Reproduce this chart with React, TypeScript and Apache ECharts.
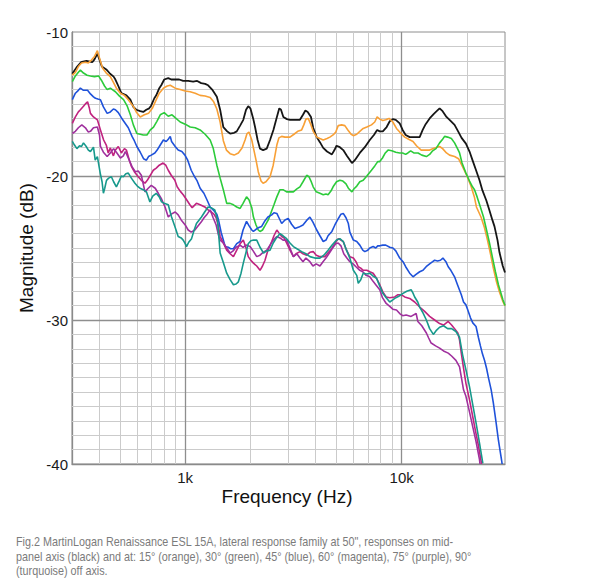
import React, { useEffect, useRef } from 'react';
import * as echarts from 'echarts';

// Frequency (Hz), magnitude (dB) pairs
const onAxis: [number, number][] = [
  [301,-12.9],[317,-12.4],[330,-12.1],[350,-12.0],[372,-12.1],[381,-11.9],[393,-11.5],[412,-12.4],[432,-12.6],[450,-12.9],[467,-13.1],[476,-13.3],[491,-13.75],[507,-14.25],[535,-14.4],[558,-14.7],[576,-15.2],[594,-15.4],[620,-15.5],[640,-15.55],[661,-15.4],[682,-15.3],[697,-15.1],[720,-14.6],[735,-14.4],[759,-13.9],[775,-13.7],[800,-13.3],[835,-13.2],[862,-13.3],[899,-13.3],[938,-13.3],[979,-13.4],[1032,-13.4],[1088,-13.45],[1136,-13.4],[1185,-13.55],[1236,-13.6],[1276,-13.7],[1332,-14.0],[1400,-14.5],[1450,-15.4],[1500,-16.6],[1563,-16.9],[1612,-17.05],[1682,-17.0],[1730,-16.9],[1793,-16.5],[1855,-16.1],[1910,-15.4],[1955,-15.15],[2000,-15.3],[2060,-16.0],[2102,-16.6],[2160,-17.5],[2216,-18.1],[2290,-18.2],[2380,-18.1],[2465,-17.5],[2555,-16.8],[2640,-16.0],[2720,-15.3],[2770,-15.4],[2840,-15.9],[2950,-16.05],[3047,-16.1],[3213,-16.1],[3388,-16.1],[3500,-15.75],[3590,-15.45],[3680,-15.55],[3810,-15.9],[3900,-16.65],[4050,-17.3],[4190,-17.65],[4340,-18.05],[4520,-18.3],[4760,-18.5],[4890,-18.2],[5000,-17.9],[5180,-18.0],[5370,-18.2],[5580,-18.6],[5890,-19.1],[6074,-18.9],[6405,-18.4],[6754,-18.0],[7122,-17.5],[7440,-17.15],[7700,-16.8],[7919,-16.9],[8180,-16.9],[8520,-16.6],[8806,-16.2],[9110,-16.05],[9390,-16.1],[9791,-16.35],[10100,-16.8],[10430,-17.15],[10886,-17.3],[11480,-17.3],[12105,-17.3],[12500,-16.8],[12900,-16.4],[13459,-16.0],[14040,-15.7],[14500,-15.5],[14966,-15.3],[15450,-15.5],[16100,-15.9],[16641,-16.1],[17547,-16.45],[18300,-16.95],[18900,-17.35],[19800,-17.75],[20574,-18.3],[21230,-18.9],[22050,-19.6],[22876,-20.3],[23600,-21.0],[24600,-21.7],[25436,-22.4],[26290,-23.1],[26822,-23.5],[27700,-24.45],[28283,-25.3],[29300,-26.25],[30000,-26.7]
];

const deg15: [number, number][] = [
  [301,-13.0],[311,-12.8],[321,-12.4],[332,-12.15],[346,-12.1],[357,-12.15],[369,-11.95],[381,-11.7],[393,-11.3],[402,-11.8],[415,-12.5],[432,-12.85],[451,-13.1],[466,-13.5],[481,-13.9],[502,-14.25],[524,-14.4],[546,-14.7],[578,-15.2],[594,-15.55],[620,-15.9],[648,-15.75],[677,-15.65],[705,-15.3],[727,-14.85],[759,-14.25],[793,-13.9],[826,-13.75],[853,-13.7],[899,-13.9],[948,-14.0],[1000,-14.1],[1054,-14.15],[1112,-14.25],[1172,-14.4],[1236,-14.45],[1304,-14.55],[1354,-14.85],[1400,-15.35],[1450,-16.25],[1500,-17.55],[1550,-18.2],[1612,-18.45],[1682,-18.55],[1760,-18.4],[1830,-18.05],[1890,-17.5],[1930,-17.05],[1970,-16.95],[2030,-17.5],[2066,-18.05],[2124,-18.9],[2175,-19.7],[2240,-20.35],[2290,-20.5],[2360,-20.4],[2465,-20.05],[2550,-19.25],[2650,-17.85],[2710,-17.35],[2790,-17.25],[2889,-17.3],[3047,-17.3],[3180,-17.1],[3310,-16.9],[3450,-16.8],[3530,-16.45],[3610,-16.05],[3700,-16.0],[3810,-16.45],[3900,-16.9],[4050,-17.3],[4190,-17.4],[4340,-17.5],[4520,-17.4],[4658,-17.3],[4820,-17.15],[4960,-16.95],[5090,-16.5],[5280,-16.45],[5462,-16.5],[5640,-16.8],[5840,-17.1],[5980,-17.2],[6200,-17.1],[6405,-16.9],[6640,-16.7],[6900,-16.6],[7250,-16.45],[7510,-16.25],[7700,-15.9],[7919,-16.05],[8180,-16.15],[8440,-16.1],[8740,-16.0],[9100,-16.25],[9460,-16.7],[9791,-16.95],[10324,-17.3],[10770,-17.45],[11280,-17.6],[11700,-17.9],[12300,-18.2],[12900,-18.2],[13459,-18.2],[14193,-18.05],[14966,-17.95],[15450,-18.1],[16100,-18.4],[16641,-18.55],[17547,-18.65],[18300,-18.8],[19100,-19.35],[19900,-19.9],[20950,-20.75],[21694,-21.5],[22140,-22.15],[23240,-22.85],[24122,-23.6],[24900,-24.45],[25700,-25.4],[26500,-26.4],[27400,-27.35],[28283,-28.05],[29300,-28.7],[30000,-29.0]
];

const deg30: [number, number][] = [
  [301,-13.45],[311,-13.05],[321,-12.8],[328,-12.65],[339,-12.85],[352,-13.0],[365,-13.05],[381,-13.1],[398,-13.05],[410,-13.35],[424,-13.75],[436,-14.0],[451,-13.9],[466,-14.05],[476,-14.15],[497,-14.45],[519,-14.7],[540,-15.15],[558,-15.75],[576,-16.45],[598,-17.05],[620,-17.1],[640,-17.15],[666,-17.15],[690,-16.8],[714,-16.6],[740,-16.2],[767,-15.75],[800,-15.6],[835,-15.85],[869,-15.75],[899,-15.95],[948,-16.25],[1000,-16.4],[1054,-16.6],[1112,-16.65],[1172,-16.8],[1236,-17.1],[1304,-17.5],[1346,-18.05],[1400,-19.25],[1450,-20.15],[1500,-20.95],[1555,-21.9],[1612,-21.9],[1670,-22.0],[1730,-22.15],[1793,-22.25],[1850,-21.9],[1920,-21.45],[1970,-21.65],[2030,-22.2],[2066,-22.85],[2124,-23.4],[2175,-23.75],[2216,-23.85],[2276,-23.75],[2337,-23.45],[2420,-23.05],[2490,-22.55],[2570,-22.0],[2650,-21.45],[2740,-20.95],[2830,-20.95],[2940,-21.1],[3047,-21.1],[3160,-21.1],[3280,-20.9],[3388,-20.75],[3500,-20.4],[3640,-19.95],[3730,-20.05],[3810,-20.35],[3900,-20.75],[4030,-21.1],[4190,-21.2],[4340,-21.3],[4470,-21.25],[4570,-21.3],[4710,-21.05],[4820,-20.75],[5000,-20.4],[5180,-20.3],[5350,-20.35],[5530,-20.55],[5670,-20.85],[5890,-21.1],[6010,-20.9],[6200,-20.7],[6405,-20.4],[6640,-20.3],[6900,-20.0],[7250,-19.6],[7510,-19.3],[7750,-19.0],[7919,-19.0],[8150,-18.75],[8400,-18.4],[8650,-18.2],[9000,-18.25],[9390,-18.35],[9791,-18.4],[10100,-18.4],[10430,-18.5],[10680,-18.4],[11000,-18.25],[11370,-18.4],[11900,-18.4],[12380,-18.55],[13000,-18.65],[13459,-18.5],[13900,-18.25],[14400,-18.1],[14966,-17.7],[15450,-17.45],[15781,-17.25],[16300,-17.3],[16960,-17.4],[17547,-17.7],[18100,-18.1],[18503,-18.4],[19000,-19.1],[19800,-19.8],[20574,-20.35],[21230,-20.75],[21694,-20.95],[22300,-21.45],[23030,-22.1],[23870,-22.85],[24650,-23.75],[25436,-24.65],[26290,-25.7],[27100,-26.65],[27970,-27.55],[29340,-28.6],[30000,-29.0]
];

const deg45: [number, number][] = [
  [301,-14.7],[311,-14.25],[321,-14.05],[328,-13.9],[339,-14.05],[354,-14.05],[365,-14.3],[377,-14.5],[385,-14.6],[395,-14.65],[406,-14.7],[419,-15.2],[436,-15.65],[451,-15.55],[466,-15.35],[476,-15.4],[491,-15.6],[507,-15.95],[529,-16.35],[546,-16.65],[568,-17.25],[582,-17.55],[598,-17.95],[620,-18.35],[642,-18.8],[662,-18.9],[677,-18.65],[697,-18.55],[724,-18.4],[742,-18.2],[767,-17.85],[793,-17.5],[817,-17.6],[835,-17.45],[853,-17.25],[865,-17.6],[899,-17.95],[928,-18.2],[965,-18.3],[997,-18.55],[1027,-18.9],[1066,-19.6],[1100,-20.0],[1132,-20.3],[1172,-20.85],[1220,-21.2],[1260,-21.65],[1304,-22.15],[1346,-22.35],[1400,-22.65],[1425,-23.05],[1465,-23.9],[1500,-24.45],[1529,-24.9],[1580,-24.95],[1620,-25.05],[1670,-25.05],[1730,-24.7],[1793,-24.55],[1850,-23.75],[1920,-23.15],[1970,-23.45],[2030,-23.75],[2066,-23.85],[2124,-23.7],[2175,-23.6],[2255,-23.5],[2337,-23.1],[2410,-22.85],[2510,-22.7],[2570,-22.55],[2650,-22.6],[2710,-22.9],[2790,-23.3],[2889,-23.05],[2990,-22.95],[3100,-23.35],[3213,-23.65],[3350,-23.55],[3500,-23.4],[3630,-23.1],[3767,-22.85],[3890,-23.2],[4050,-23.75],[4190,-24.15],[4340,-24.55],[4470,-24.45],[4570,-24.15],[4760,-23.85],[4912,-23.4],[5100,-22.95],[5240,-22.65],[5370,-22.6],[5530,-22.9],[5670,-23.3],[5760,-23.9],[5980,-24.45],[6200,-24.55],[6405,-24.8],[6610,-25.15],[6754,-25.25],[6970,-25.15],[7122,-25.0],[7380,-24.9],[7590,-25.0],[7750,-24.85],[7919,-24.85],[8180,-24.8],[8440,-24.8],[8806,-24.95],[9110,-25.0],[9390,-25.2],[9791,-25.7],[10140,-25.95],[10430,-26.3],[10886,-26.75],[11280,-27.0],[11610,-26.85],[12105,-26.65],[12540,-26.55],[12970,-26.3],[13459,-26.1],[13900,-25.95],[14193,-25.85],[14650,-25.9],[15100,-25.85],[15500,-25.7],[16000,-25.95],[16400,-26.3],[16860,-26.55],[17547,-27.0],[18100,-27.55],[18850,-28.25],[19300,-28.75],[19800,-28.95],[20200,-29.3],[20780,-29.85],[21300,-30.2],[22050,-30.45],[22600,-31.2],[23100,-31.8],[23600,-32.35],[24122,-32.8],[24650,-33.35],[25200,-34.05],[25900,-34.85],[26500,-35.75],[27300,-37.15],[27970,-38.35],[28900,-39.7],[29100,-40.0]
];

const deg60: [number, number][] = [
  [301,-16.35],[311,-15.9],[321,-15.55],[328,-15.4],[339,-15.15],[348,-14.95],[354,-14.85],[361,-15.3],[365,-15.65],[377,-15.9],[393,-16.1],[406,-16.8],[420,-17.5],[432,-17.85],[441,-18.4],[451,-18.05],[466,-18.6],[476,-18.2],[491,-17.95],[507,-18.4],[524,-18.1],[535,-18.2],[552,-18.9],[565,-19.35],[582,-19.7],[607,-20.05],[627,-20.3],[652,-20.5],[668,-20.3],[690,-19.95],[712,-19.6],[735,-19.45],[759,-19.25],[790,-19.1],[813,-19.25],[835,-19.6],[862,-19.95],[896,-20.3],[918,-20.75],[948,-21.05],[979,-21.3],[1015,-21.65],[1051,-22.0],[1077,-22.2],[1127,-21.9],[1172,-22.0],[1232,-22.15],[1276,-22.35],[1321,-22.5],[1357,-22.65],[1390,-22.9],[1420,-23.4],[1450,-24.2],[1500,-24.65],[1555,-25.15],[1612,-25.4],[1670,-25.6],[1730,-25.15],[1793,-24.7],[1855,-24.45],[1910,-25.0],[1955,-25.6],[2010,-25.85],[2066,-26.05],[2140,-26.25],[2216,-26.55],[2276,-26.25],[2337,-25.85],[2410,-25.15],[2510,-24.55],[2570,-24.15],[2650,-23.75],[2710,-23.95],[2790,-24.2],[2860,-24.3],[2940,-24.65],[3047,-25.15],[3160,-25.6],[3250,-25.4],[3388,-25.25],[3500,-25.4],[3640,-25.5],[3767,-25.3],[3900,-25.25],[4030,-25.5],[4190,-25.6],[4418,-25.6],[4560,-25.35],[4690,-25.15],[4820,-24.9],[4960,-24.6],[5090,-24.35],[5240,-24.45],[5370,-24.55],[5560,-25.15],[5760,-25.6],[5980,-25.7],[6150,-25.95],[6300,-26.3],[6470,-26.4],[6640,-26.55],[6900,-26.55],[7122,-26.65],[7380,-26.75],[7650,-27.1],[7919,-27.55],[8180,-28.05],[8480,-28.4],[8806,-28.45],[9285,-28.4],[9570,-28.25],[9980,-28.25],[10324,-28.4],[10886,-28.5],[11480,-28.75],[12105,-29.1],[12764,-29.4],[13459,-29.75],[14193,-30.0],[14966,-30.25],[15600,-30.35],[16400,-30.1],[17000,-30.35],[17547,-30.6],[18170,-30.9],[18503,-31.4],[18850,-32.3],[19300,-33.35],[19800,-34.4],[20574,-35.55],[21280,-36.7],[21880,-37.65],[22600,-38.7],[23200,-39.7],[23400,-40.0]
];

const deg75: [number, number][] = [
  [301,-17.05],[311,-16.9],[321,-16.65],[333,-16.45],[346,-16.65],[357,-16.95],[365,-16.9],[377,-16.65],[393,-16.6],[402,-17.15],[406,-17.95],[419,-18.35],[436,-18.65],[451,-18.4],[467,-18.1],[481,-18.35],[502,-18.75],[518,-18.6],[529,-18.3],[546,-18.75],[568,-19.35],[588,-19.7],[607,-19.65],[627,-19.95],[652,-21.1],[675,-20.85],[697,-20.65],[727,-20.85],[751,-21.2],[775,-21.55],[807,-22.15],[835,-22.85],[862,-22.65],[899,-22.5],[928,-22.7],[958,-23.05],[1000,-23.4],[1032,-23.75],[1066,-23.9],[1108,-23.75],[1148,-23.45],[1185,-23.2],[1222,-22.9],[1262,-22.65],[1304,-22.35],[1346,-22.9],[1390,-23.4],[1425,-24.1],[1450,-24.45],[1500,-24.65],[1555,-25.0],[1612,-25.35],[1665,-25.2],[1718,-24.95],[1793,-24.8],[1850,-24.95],[1910,-24.8],[1993,-24.9],[2060,-25.2],[2140,-25.6],[2216,-25.5],[2290,-25.3],[2380,-25.15],[2465,-24.8],[2550,-24.45],[2650,-24.2],[2740,-24.3],[2830,-24.45],[2940,-24.45],[3047,-25.0],[3160,-25.6],[3280,-25.4],[3388,-25.7],[3500,-25.95],[3610,-25.7],[3767,-25.95],[3890,-26.25],[4030,-26.1],[4190,-26.25],[4330,-25.95],[4470,-25.7],[4658,-25.3],[4820,-24.95],[4960,-24.7],[5090,-24.65],[5240,-24.85],[5400,-25.4],[5580,-25.7],[5760,-25.95],[5960,-26.1],[6150,-26.3],[6405,-26.55],[6610,-26.65],[6850,-26.9],[7122,-27.0],[7360,-27.3],[7590,-27.55],[7919,-27.9],[8150,-28.45],[8480,-28.85],[8806,-29.05],[9100,-29.25],[9460,-29.3],[9791,-29.55],[10100,-29.7],[10480,-29.65],[11050,-29.75],[11660,-29.55],[11870,-30.1],[12380,-30.4],[13000,-30.9],[13320,-31.25],[13680,-31.6],[14340,-31.8],[14966,-31.95],[15600,-32.15],[16400,-32.3],[17000,-32.5],[17800,-32.8],[18503,-33.25],[18900,-34.05],[19300,-34.85],[19800,-35.3],[20574,-36.4],[21280,-37.4],[22050,-38.45],[22876,-39.7],[23000,-40.0]
];

const deg90: [number, number][] = [
  [301,-17.6],[308,-17.85],[316,-18.1],[325,-17.9],[332,-17.95],[339,-17.7],[349,-17.95],[357,-18.2],[365,-18.3],[377,-18.0],[384,-18.9],[393,-18.65],[405,-19.8],[413,-20.4],[419,-21.2],[425,-20.85],[433,-20.3],[443,-20.15],[456,-20.05],[467,-20.4],[481,-20.75],[497,-20.3],[507,-20.0],[518,-20.05],[532,-19.85],[546,-19.8],[564,-20.15],[586,-20.5],[601,-20.7],[618,-20.85],[640,-20.95],[662,-21.1],[687,-21.8],[708,-21.4],[735,-21.2],[759,-21.45],[778,-21.8],[800,-21.9],[835,-22.0],[865,-22.85],[896,-23.5],[928,-24.2],[958,-24.3],[979,-24.45],[1000,-24.7],[1014,-24.9],[1038,-24.6],[1070,-24.35],[1100,-23.75],[1127,-23.3],[1160,-23.05],[1189,-22.85],[1230,-22.5],[1276,-22.15],[1317,-22.2],[1370,-22.35],[1410,-23.05],[1450,-25.35],[1500,-26.0],[1555,-26.75],[1612,-27.2],[1670,-27.55],[1718,-27.5],[1760,-27.35],[1811,-26.75],[1855,-26.05],[1910,-25.3],[1955,-24.7],[2010,-24.5],[2070,-24.45],[2140,-24.45],[2216,-24.95],[2300,-25.35],[2380,-25.2],[2465,-25.15],[2550,-24.65],[2640,-24.3],[2740,-24.0],[2830,-24.15],[2940,-24.35],[3047,-24.65],[3160,-24.9],[3280,-25.05],[3450,-25.25],[3610,-25.4],[3767,-25.6],[3973,-25.7],[4190,-25.7],[4370,-25.5],[4570,-25.15],[4770,-24.8],[5000,-24.45],[5180,-24.35],[5370,-24.55],[5560,-25.15],[5760,-25.7],[5980,-26.55],[6200,-26.9],[6300,-27.45],[6470,-27.2],[6640,-26.75],[6900,-26.8],[7122,-26.75],[7380,-26.95],[7650,-27.1],[7919,-27.65],[8180,-28.15],[8480,-28.45],[8806,-28.75],[9100,-28.6],[9285,-28.5],[9690,-28.35],[10140,-28.15],[10550,-28.0],[11050,-27.9],[11250,-28.1],[11480,-28.4],[11860,-28.75],[12105,-29.1],[12540,-29.5],[13000,-30.0],[13459,-30.6],[14000,-31.0],[14500,-30.7],[14966,-30.5],[15600,-30.4],[16300,-30.6],[17000,-30.6],[17800,-30.8],[18503,-31.2],[19100,-32.4],[19900,-33.6],[20574,-34.65],[21300,-35.9],[22050,-37.15],[22876,-38.55],[23700,-39.95]
];

const seriesNames = ['On axis', '15°', '30°', '45°', '60°', '75°', '90°'];
const seriesColors = ['#161616', '#f8a036', '#2ccb3a', '#1f52da', '#c0237f', '#a0309e', '#17998c'];
const seriesData = [onAxis, deg15, deg30, deg45, deg60, deg75, deg90];

const xMinorLines = [400, 500, 600, 700, 800, 900, 2000, 3000, 4000, 5000, 6000, 7000, 8000, 9000, 20000];
const xMajorLines = [1000, 10000];
const yMinorLines = [-39, -38, -37, -36, -35, -34, -33, -32, -31, -29, -28, -27, -26, -25, -24, -23, -22, -21, -19, -18, -17, -16, -15, -14, -13, -12, -11];
const yMajorLines = [-30, -20];
const yTicks = [-40, -30, -20, -10];

const captionLines = [
  'Fig.2 MartinLogan Renaissance ESL 15A, lateral response family at 50", responses on mid-',
  'panel axis (black) and at: 15° (orange), 30° (green), 45° (blue), 60° (magenta), 75° (purple), 90°',
  '(turquoise) off axis.',
];

const FONT = '"Liberation Sans", Arial, Helvetica, sans-serif';

export default function App() {
  const ref = useRef<HTMLDivElement>(null);
  useEffect(() => {
    if (!ref.current) return;
    const chart = echarts.init(ref.current, null, { renderer: 'svg' });
    const minorColor = '#cbcbcb';
    const majorColor = '#8e8e8e';
    const gridLineData: any[] = [
      ...xMinorLines.map((v) => ({ xAxis: v, lineStyle: { color: minorColor, width: 1, type: 'solid' } })),
      ...yMinorLines.map((v) => ({ yAxis: v, lineStyle: { color: minorColor, width: 1, type: 'solid' } })),
      ...xMajorLines.map((v) => ({ xAxis: v, lineStyle: { color: majorColor, width: 1.3, type: 'solid' } })),
      ...yMajorLines.map((v) => ({ yAxis: v, lineStyle: { color: majorColor, width: 1.3, type: 'solid' } })),
    ];
    chart.setOption({
      animation: false,
      backgroundColor: '#ffffff',
      grid: { left: 72, top: 32, width: 433, height: 432, show: true, borderColor: '#8e8e8e', borderWidth: 1, containLabel: false },
      xAxis: {
        type: 'log', logBase: 10, min: 300, max: 30000,
        axisLine: { show: true, lineStyle: { color: '#8a8a8a', width: 1.3 } },
        axisTick: { show: false },
        splitLine: { show: false },
        axisLabel: {
          color: '#1a1a1a', fontSize: 15, fontFamily: FONT, margin: 6,
          showMinLabel: false, showMaxLabel: false,
          formatter: (v: number) => (Math.abs(v - 1000) < 1 ? '1k' : Math.abs(v - 10000) < 1 ? '10k' : ''),
        },
      },
      yAxis: {
        type: 'value', min: yTicks[0], max: yTicks[yTicks.length - 1], interval: 10,
        axisLine: { show: true, lineStyle: { color: '#8a8a8a', width: 1.3 } },
        axisTick: { show: false },
        splitLine: { show: false },
        axisLabel: { color: '#1a1a1a', fontSize: 15, fontFamily: FONT, margin: 4 },
      },
      graphic: [
        { type: 'text', x: 287, y: 496, style: { text: 'Frequency (Hz)', fill: '#111', fontSize: 19, fontFamily: FONT, align: 'center', verticalAlign: 'middle' } },
        { type: 'text', x: 26, y: 248, rotation: Math.PI / 2, style: { text: 'Magnitude (dB)', fill: '#111', fontSize: 19, fontFamily: FONT, align: 'center', verticalAlign: 'middle' } },
        ...captionLines.map((t, i) => ({
          type: 'text', x: 16, y: 542 + i * 14.5, scaleX: 0.9,
          style: { text: t, fill: '#7b7b7b', fontSize: 12, fontFamily: FONT, align: 'left', verticalAlign: 'middle' },
        })),
      ],
      series: [
        {
          type: 'line', data: [], silent: true, z: 1,
          markLine: { silent: true, z: 1, symbol: ['none', 'none'], label: { show: false }, emphasis: { disabled: true }, data: gridLineData },
        },
        ...seriesData.map((d, i) => ({
          name: seriesNames[i], type: 'line', data: d, showSymbol: false, symbol: 'none', z: 3,
          clip: true, silent: true,
          lineStyle: { color: seriesColors[i], width: i === 0 ? 1.8 : 1.6 },
          itemStyle: { color: seriesColors[i] },
        })),
      ],
    });
    return () => chart.dispose();
  }, []);
  return <div ref={ref} style={{ position: 'absolute', left: 0, top: 0, width: 593, height: 584, background: '#fff' }} />;
}
